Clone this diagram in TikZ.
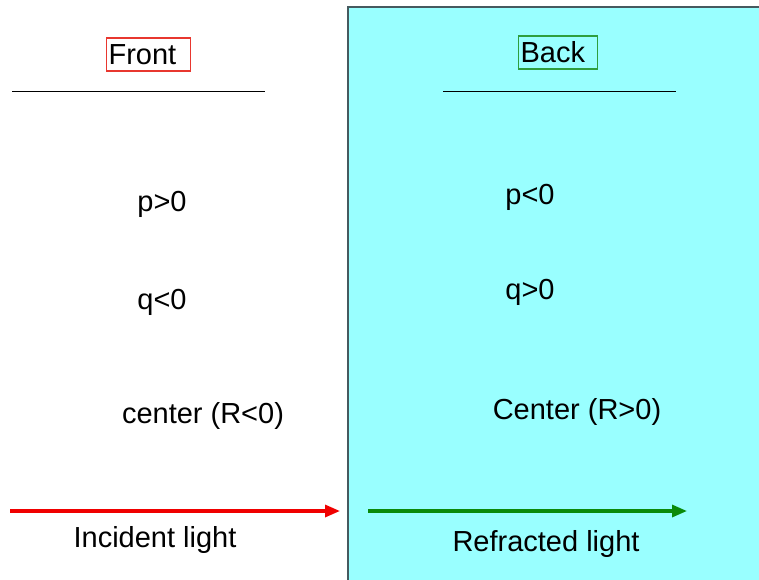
\documentclass[tikz,border=0pt]{standalone}
\usepackage{fontspec}
\setmainfont{Liberation Sans}
\usetikzlibrary{arrows.meta}
\definecolor{bgcyan}{HTML}{99FFFF}
\definecolor{boxred}{HTML}{E8372F}
\definecolor{boxgreen}{HTML}{2E9E3E}
\definecolor{arrred}{HTML}{F00000}
\definecolor{arrgreen}{HTML}{0A8A0A}
\tikzset{
  lbl/.style={font=\fontsize{29}{32}\selectfont, inner sep=0pt},
  titlebox/.style={lbl, draw, line width=1.2pt, anchor=west, align=left, inner xsep=2pt,
     text width=#1, minimum height=33pt},
  ray/.style={line width=3.2pt, -{Triangle[length=15pt,width=12pt]}},
}
\begin{document}
\begin{tikzpicture}[x=1pt,y=-1pt]
\useasboundingbox (0,0) rectangle (759,579);
\fill[bgcyan] (348,7) rectangle (770,590);
\draw[line width=1.2pt, draw={rgb,255:red,70;green,90;blue,95}] (770,7) -- (348,7) -- (348,590);
% titles
\node[titlebox=80pt, draw=boxred] (front) at (106,54.5) {Front};
\node[titlebox=75pt, draw=boxgreen] (back) at (518,52.5) {Back};
\coordinate (l1) at (12,91); \coordinate (l2) at (265,91);
\coordinate (r1) at (443,91); \coordinate (r2) at (676,91);
\draw[line width=1pt] (l1) -- (l2);
\draw[line width=1pt] (r1) -- (r2);
% left column
\node[lbl] (p1) at (162,204) {p>0};
\node[lbl] (q1) at (162,302) {q<0};
\node[lbl] (c1) at (203,416) {center (R<0)};
% right column
\node[lbl] (p2) at (530,197) {p<0};
\node[lbl] (q2) at (530,292) {q>0};
\node[lbl] (c2) at (577,412) {Center (R>0)};
% arrows
\coordinate (a1) at (10,511); \coordinate (a2) at (340,511);
\coordinate (b1) at (368,511); \coordinate (b2) at (687,511);
\draw[ray, arrred] (a1) -- (a2);
\draw[ray, arrgreen] (b1) -- (b2);
\node[lbl] (inc) at (155,540) {Incident light};
\node[lbl] (ref) at (546,544) {Refracted light};
\end{tikzpicture}
\end{document}
